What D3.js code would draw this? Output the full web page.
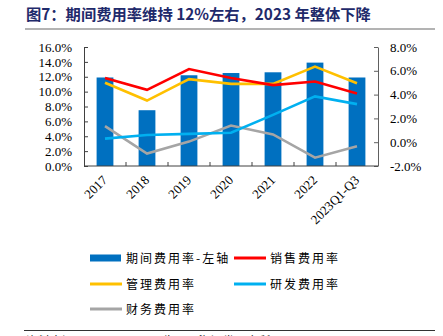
<!DOCTYPE html>
<html>
<head>
<meta charset="utf-8">
<script src="https://cdn.jsdelivr.net/npm/d3@7"></script>
<style>
  body { margin: 0; background: #fff; }
  svg { display: block; }
</style>
</head>
<body>
<div id="chart"></div>
<script>
const years = ["2017", "2018", "2019", "2020", "2021", "2022", "2023Q1-Q3"];
const periodRate = [11.9, 7.5, 12.2, 12.5, 12.6, 13.9, 11.9];   // 期间费用率 (left axis)
const salesRate = [5.4, 4.4, 6.15, 5.4, 4.8, 5.1, 4.1];         // 销售费用率
const adminRate = [5.0, 3.5, 5.3, 4.9, 4.9, 6.35, 4.95];        // 管理费用率
const rdRate = [0.3, 0.6, 0.7, 0.8, 2.3, 3.85, 3.2];            // 研发费用率
const financeRate = [1.35, -0.95, 0.05, 1.4, 0.65, -1.3, -0.35]; // 财务费用率
const leftTicks = [0, 2, 4, 6, 8, 10, 12, 14, 16];
const rightTicks = [-2, 0, 2, 4, 6, 8];

const W = 443, H = 336;
const plot = { left: 84, right: 378, top: 47, bottom: 166 };

const svg = d3.select("#chart").append("svg")
    .attr("width", W)
    .attr("height", H);

// title and rule under it
svg.append("text")
    .attr("x", 26)
    .attr("y", 20)
    .style("font-family", "'Noto Sans CJK SC'")
    .style("font-weight", "bold")
    .style("font-size", "15.3px")
    .style("fill", "#1f2a6b")
    .text("图7：期间费用率维持 12%左右，2023 年整体下降");

svg.append("line")
    .attr("x1", 25).attr("x2", 435)
    .attr("y1", 29).attr("y2", 29)
    .attr("stroke", "#9a9a9a")
    .attr("stroke-width", 1.5);

const x = d3.scaleBand()
    .domain(years)
    .range([plot.left, plot.right]);

const yLeft = d3.scaleLinear()
    .domain([0, 16])
    .range([plot.bottom, plot.top]);

const yRight = d3.scaleLinear()
    .domain([-2, 8])
    .range([plot.bottom, plot.top]);

const barW = x.bandwidth() * 0.4;

svg.selectAll(".bar")
    .data(years)
    .enter()
    .append("rect")
    .attr("class", "bar")
    .attr("x", d => x(d) + (x.bandwidth() - barW) / 2)
    .attr("y", (d, i) => yLeft(periodRate[i]))
    .attr("width", barW)
    .attr("height", (d, i) => plot.bottom - yLeft(periodRate[i]))
    .attr("fill", "#0070c0");

const fmt = d => d.toFixed(1) + "%";
const tickFont = "'Liberation Serif', 'Times New Roman', serif";

// left axis
const gLeft = svg.append("g")
    .attr("transform", `translate(${plot.left},0)`)
    .call(d3.axisLeft(yLeft).tickValues(leftTicks).tickFormat(fmt).tickSizeInner(-4).tickSizeOuter(0).tickPadding(12));
gLeft.select(".domain").attr("stroke", "#404040");
gLeft.selectAll(".tick line").attr("stroke", "#404040");
gLeft.selectAll("text")
    .style("font-family", tickFont)
    .style("font-size", "13px")
    .attr("fill", "#000");

// right axis
const gRight = svg.append("g")
    .attr("transform", `translate(${plot.right},0)`)
    .call(d3.axisRight(yRight).tickValues(rightTicks).tickFormat(fmt).tickSizeInner(-4).tickSizeOuter(0).tickPadding(12));
gRight.select(".domain").attr("stroke", "#606060");
gRight.selectAll(".tick line").attr("stroke", "#606060");
gRight.selectAll("text")
    .style("font-family", tickFont)
    .style("font-size", "13px")
    .attr("fill", "#000");

// bottom axis: ticks sit between the bars
svg.append("line")
    .attr("x1", plot.left).attr("x2", plot.right)
    .attr("y1", plot.bottom).attr("y2", plot.bottom)
    .attr("stroke", "#404040");

svg.selectAll(".xtick")
    .data(years.slice(1))
    .enter()
    .append("line")
    .attr("class", "xtick")
    .attr("x1", d => x(d)).attr("x2", d => x(d))
    .attr("y1", plot.bottom).attr("y2", plot.bottom - 4)
    .attr("stroke", "#404040");

svg.selectAll(".xlabel")
    .data(years)
    .enter()
    .append("text")
    .attr("class", "xlabel")
    .attr("transform", d => `translate(${x(d) + x.bandwidth() / 2 + 3},${plot.bottom + 15}) rotate(-45)`)
    .style("text-anchor", "end")
    .style("font-family", tickFont)
    .style("font-size", "13px")
    .text(d => d);

const lines = [
    { name: "销售费用率", values: salesRate, color: "#ff0000" },
    { name: "管理费用率", values: adminRate, color: "#ffc000" },
    { name: "研发费用率", values: rdRate, color: "#00b0f0" },
    { name: "财务费用率", values: financeRate, color: "#a5a5a5" }
];

const lineGen = d3.line()
    .x((d, i) => x(years[i]) + x.bandwidth() / 2)
    .y(d => yRight(d));

// draw order so red/yellow sit on top
[lines[3], lines[2], lines[1], lines[0]].forEach(s => {
    svg.append("path")
        .datum(s.values)
        .attr("d", lineGen)
        .attr("fill", "none")
        .attr("stroke", s.color)
        .attr("stroke-width", 2.6);
});

// legend
const legendFont = "'Noto Sans CJK SC', sans-serif";
const legendItems = [
    { name: "期间费用率-左轴", color: "#0070c0", bar: true, col: 0, row: 0 },
    { name: "销售费用率", color: "#ff0000", col: 1, row: 0 },
    { name: "管理费用率", color: "#ffc000", col: 0, row: 1 },
    { name: "研发费用率", color: "#00b0f0", col: 1, row: 1 },
    { name: "财务费用率", color: "#a5a5a5", col: 0, row: 2 }
];
const colX = [90, 234];
const rowY = [258, 284, 309];

legendItems.forEach(it => {
    const lx = colX[it.col], ly = rowY[it.row];
    if (it.bar) {
        svg.append("rect")
            .attr("x", lx).attr("y", ly - 3.5)
            .attr("width", 31).attr("height", 7)
            .attr("fill", it.color);
    } else {
        svg.append("line")
            .attr("x1", lx).attr("x2", lx + 32)
            .attr("y1", ly).attr("y2", ly)
            .attr("stroke", it.color)
            .attr("stroke-width", 3);
    }
    svg.append("text")
        .attr("x", lx + 36)
        .attr("y", ly + 4.5)
        .style("font-family", legendFont)
        .style("font-size", "12px")
        .style("letter-spacing", "2px")
        .text(it.name);
});

// source rule and note (note runs off the bottom edge)
svg.append("line")
    .attr("x1", 24).attr("x2", 435)
    .attr("y1", 330.5).attr("y2", 330.5)
    .attr("stroke", "#333")
    .attr("stroke-width", 1.2);

svg.append("text")
    .attr("x", 26)
    .attr("y", 346)
    .style("font-family", legendFont)
    .style("font-size", "12px")
    .style("fill", "#222")
    .text("资料来源：Wind，公司公告，国海证券研究所");
</script>
</body>
</html>
